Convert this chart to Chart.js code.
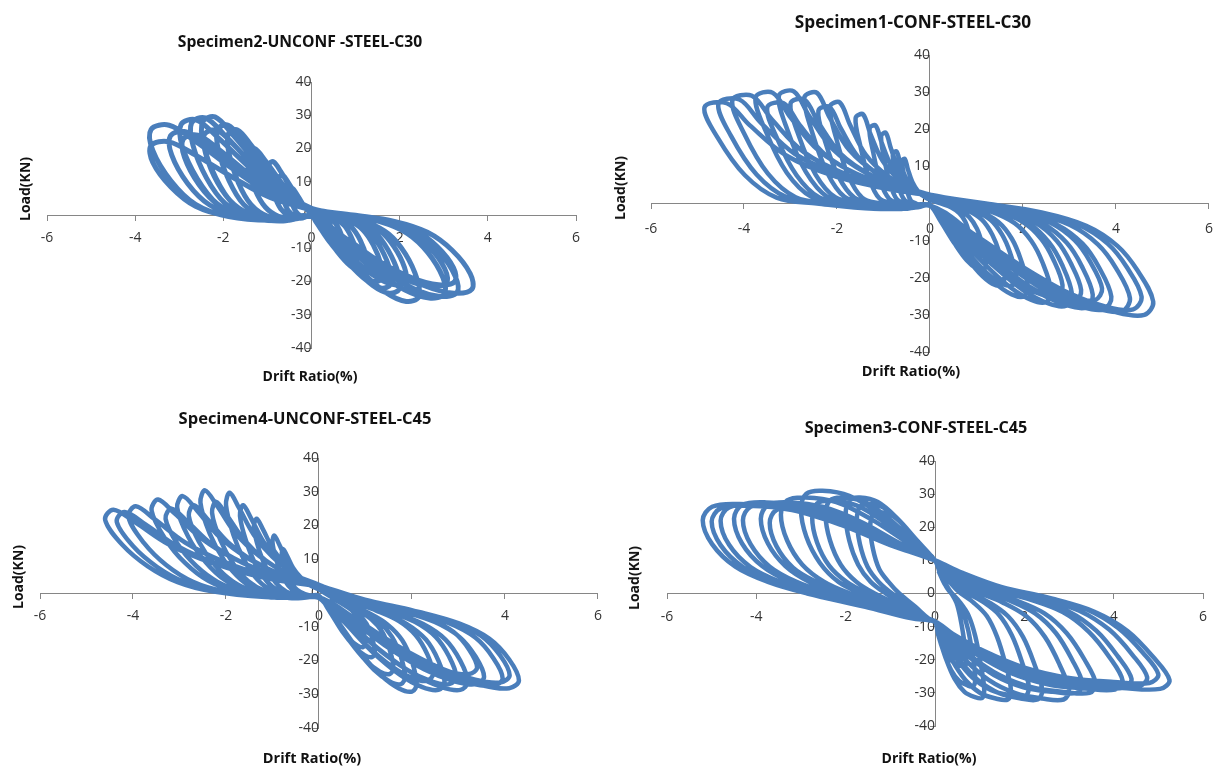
<!DOCTYPE html>
<html>
<head>
<meta charset="utf-8">
<script src="https://cdn.jsdelivr.net/npm/chart.js@4.4.1/dist/chart.umd.min.js"></script>
<style>
  body { margin: 0; background: #fff; font-family: "Open Sans", sans-serif; }
  #wrap { position: relative; width: 1225px; height: 767px; overflow: hidden; }
  canvas { position: absolute; }
  .t { position: absolute; white-space: nowrap; font-weight: bold; color: #111;
       transform: translate(-50%, -50%); line-height: 1; }
  .axt { font-size: 14px; }
  .rot { transform: translate(-50%, -50%) rotate(-90deg); }
</style>
</head>
<body>
<div id="wrap">
  <canvas id="c1" width="612" height="383" style="left:0;top:0"></canvas>
  <canvas id="c2" width="613" height="390" style="left:612px;top:0"></canvas>
  <canvas id="c3" width="612" height="384" style="left:0;top:383px"></canvas>
  <canvas id="c4" width="613" height="377" style="left:612px;top:390px"></canvas>

  <div class="t" style="left:300px;top:42px;font-size:15.7px">Specimen2-UNCONF -STEEL-C30</div>
  <div class="t" style="left:913px;top:22px;font-size:17.2px">Specimen1-CONF-STEEL-C30</div>
  <div class="t" style="left:305px;top:418px;font-size:16.5px">Specimen4-UNCONF-STEEL-C45</div>
  <div class="t" style="left:916px;top:427px;font-size:16.2px">Specimen3-CONF-STEEL-C45</div>

  <div class="t axt" style="left:310px;top:376px">Drift Ratio(%)</div>
  <div class="t axt" style="left:911px;top:371px;font-size:14.5px">Drift Ratio(%)</div>
  <div class="t axt" style="left:312px;top:758px;font-size:14.5px">Drift Ratio(%)</div>
  <div class="t axt" style="left:929px;top:758px">Drift Ratio(%)</div>

  <div class="t axt rot" style="left:25px;top:189px">Load(KN)</div>
  <div class="t axt rot" style="left:620px;top:188px">Load(KN)</div>
  <div class="t axt rot" style="left:18px;top:577px">Load(KN)</div>
  <div class="t axt rot" style="left:634px;top:578px">Load(KN)</div>
</div>

<script>
// tick values shared by all four panels
const driftTicks = [-6, -4, -2, 0, 2, 4, 6];
const loadTicks = [-40, -30, -20, -10, 0, 10, 20, 30, 40];

// hysteresis loops, drift (%) / load (kN) pairs
// Specimen2-UNCONF-STEEL-C30
const spec2Loops = [
  [0.13,0, 0.25,-0.6, 0.35,-1.5, 0.43,-3.2, 0.48,-5.3, 0.49,-6.7, 0.43,-7, 0.34,-6.3, 0.23,-4.6, 0.11,-2.2, 0,-0.1,
   -0.13,-0.5, -0.25,-0.2, -0.35,1, -0.43,3, -0.48,5.8, -0.49,7.6, -0.43,8, -0.35,6.6, -0.24,4.2, -0.13,1.9, 0,0.6],
  [0.19,0, 0.38,-0.8, 0.53,-2.3, 0.64,-4.7, 0.72,-7.9, 0.73,-10, 0.65,-10.5, 0.51,-9.5, 0.34,-6.8, 0.17,-3.4, 0,-0.2,
   -0.19,-0.7, -0.38,-0.2, -0.53,1.4, -0.64,4.6, -0.72,8.6, -0.73,11.4, -0.65,12, -0.53,9.8, -0.36,6.2, -0.19,2.9, 0,0.8],
  [0.26,0, 0.53,-1.1, 0.74,-3.1, 0.89,-6.3, 1.01,-10.5, 1.02,-13.3, 0.9,-14, 0.71,-12.6, 0.47,-9.1, 0.23,-4.5, 0,-0.3,
   -0.25,-1, -0.5,-0.3, -0.7,1.9, -0.85,6.1, -0.96,11.5, -0.97,15.2, -0.86,16, -0.7,13.1, -0.48,8.3, -0.25,3.8, 0,1.1],
  [0.33,0, 0.65,-1.4, 0.91,-3.7, 1.11,-7.7, 1.25,-12.8, 1.26,-16.2, 1.12,-17, 0.88,-15.3, 0.59,-11.1, 0.29,-5.4, 0,-0.3,
   -0.38,-1.2, -0.75,-0.4, -1.05,2.4, -1.28,7.6, -1.44,14.4, -1.46,19, -1.29,20, -1.05,16.4, -0.72,10.4, -0.38,4.8, 0,1.4],
  [0.41,0, 0.83,-1.6, 1.16,-4.4, 1.4,-9, 1.58,-15, 1.6,-19, 1.42,-20, 1.12,-18, 0.74,-13, 0.36,-6.4, 0,-0.4,
   -0.49,-1.5, -0.98,-0.5, -1.37,3.1, -1.66,9.7, -1.87,18.4, -1.89,24.3, -1.68,25.6, -1.37,21, -0.94,13.3, -0.49,6.1, 0,1.8],
  [0.46,0, 0.93,-1.8, 1.3,-4.8, 1.57,-9.9, 1.78,-16.5, 1.79,-20.9, 1.59,-22, 1.26,-19.8, 0.83,-14.3, 0.41,-7, 0,-0.4,
   -0.55,-1.6, -1.1,-0.5, -1.54,3.2, -1.87,10.3, -2.11,19.4, -2.13,25.7, -1.89,27, -1.54,22.1, -1.06,14, -0.55,6.5, 0,1.9],
  [0.51,0, 1.03,-1.9, 1.44,-5.2, 1.74,-10.6, 1.97,-17.6, 1.99,-22.3, 1.76,-23.5, 1.39,-21.2, 0.92,-15.3, 0.45,-7.5, 0,-0.5,
   -0.64,-1.8, -1.28,-0.6, -1.79,3.5, -2.17,11.2, -2.45,21.2, -2.47,28, -2.19,29.5, -1.79,24.2, -1.22,15.3, -0.64,7.1, 0,2],
  [0.55,0, 1.1,-1.7, 1.54,-4.6, 1.87,-9.5, 2.11,-15.8, 2.13,-20, 1.89,-21, 1.5,-18.9, 0.99,-13.7, 0.48,-6.7, 0,-0.4,
   -0.63,-1.5, -1.25,-0.5, -1.75,3.1, -2.13,9.7, -2.4,18.4, -2.43,24.2, -2.15,25.5, -1.75,20.9, -1.2,13.3, -0.63,6.1, 0,1.8],
  [0.63,0, 1.25,-2.1, 1.75,-5.7, 2.13,-11.7, 2.4,-19.5, 2.43,-24.7, 2.15,-26, 1.7,-23.4, 1.13,-16.9, 0.55,-8.3, 0,-0.5,
   -0.7,-1.8, -1.4,-0.6, -1.96,3.5, -2.38,11.1, -2.69,21, -2.72,27.7, -2.41,29.2, -1.96,23.9, -1.34,15.2, -0.7,7, 0,2],
  [0.78,0, 1.55,-2, 2.17,-5.5, 2.64,-11.3, 2.98,-18.8, 3.01,-23.8, 2.67,-25, 2.11,-22.5, 1.4,-16.3, 0.68,-8, 0,-0.5,
   -0.76,-1.7, -1.53,-0.6, -2.14,3.4, -2.59,10.9, -2.93,20.6, -2.96,27.2, -2.62,28.6, -2.14,23.5, -1.46,14.9, -0.76,6.9, 0,2],
  [0.79,0, 1.58,-1.7, 2.21,-4.7, 2.68,-9.7, 3.02,-16.1, 3.06,-20.4, 2.71,-21.5, 2.14,-19.4, 1.42,-14, 0.69,-6.9, 0,-0.4,
   -0.75,-1.4, -1.5,-0.5, -2.1,2.9, -2.55,9.1, -2.88,17.3, -2.91,22.8, -2.58,24, -2.1,19.7, -1.44,12.5, -0.75,5.8, 0,1.7],
  [0.85,0, 1.7,-2, 2.38,-5.4, 2.89,-11, 3.26,-18.4, 3.3,-23.3, 2.92,-24.5, 2.31,-22.1, 1.53,-15.9, 0.75,-7.8, 0,-0.5,
   -0.83,-1.5, -1.65,-0.5, -2.31,3, -2.81,9.5, -3.17,18, -3.2,23.8, -2.84,25, -2.31,20.5, -1.58,13, -0.83,6, 0,1.8],
  [0.94,0, 1.88,-1.9, 2.63,-5.2, 3.19,-10.6, 3.6,-17.6, 3.64,-22.3, 3.23,-23.5, 2.55,-21.2, 1.69,-15.3, 0.83,-7.5, 0,-0.5,
   -0.94,-1.6, -1.88,-0.5, -2.63,3.2, -3.19,10.3, -3.6,19.4, -3.64,25.7, -3.23,27, -2.63,22.1, -1.8,14, -0.94,6.5, 0,1.9],
  [0.84,0, 1.68,-1.7, 2.35,-4.6, 2.85,-9.5, 3.22,-15.8, 3.25,-20, 2.88,-21, 2.28,-18.9, 1.51,-13.7, 0.74,-6.7, 0,-0.4,
   -0.94,-1.3, -1.88,-0.4, -2.63,2.6, -3.19,8.4, -3.6,15.8, -3.64,20.9, -3.23,22, -2.63,18, -1.8,11.4, -0.94,5.3, 0,1.5]
];

// Specimen1-CONF-STEEL-C30
const spec1Loops = [
  [0.3,0, 0.6,-1.4, 0.84,-3.6, 1.01,-6.8, 1.12,-10.8, 1.2,-15.8, 1.15,-18, 1.01,-17.6, 0.79,-15.3, 0.53,-10.8, 0.24,-5, 0,-0.4,
   -0.15,-0.6, -0.3,0, -0.41,0.7, -0.49,3.4, -0.56,7.8, -0.6,11.5, -0.54,12, -0.48,9.4, -0.38,5.8, -0.25,3.2, -0.11,1.7, 0,1],
  [0.23,0, 0.45,-1, 0.63,-2.6, 0.76,-4.9, 0.84,-7.8, 0.9,-11.4, 0.86,-13, 0.76,-12.7, 0.59,-11.1, 0.4,-7.8, 0.18,-3.6, 0,-0.3,
   -0.2,-0.7, -0.4,0, -0.54,0.8, -0.66,3.9, -0.75,9.1, -0.8,13.4, -0.72,14, -0.64,10.9, -0.51,6.7, -0.34,3.8, -0.14,2, 0,1.1],
  [0.4,0, 0.8,-1.8, 1.12,-4.4, 1.34,-8.4, 1.49,-13.2, 1.6,-19.4, 1.54,-22, 1.34,-21.6, 1.06,-18.7, 0.7,-13.2, 0.32,-6.2, 0,-0.4,
   -0.26,-1, -0.53,0, -0.71,1.1, -0.86,5.3, -0.99,12.4, -1.05,18.2, -0.95,19, -0.84,14.8, -0.67,9.1, -0.44,5.1, -0.19,2.7, 0,1.5],
  [0.46,0, 0.93,-1.8, 1.3,-4.4, 1.55,-8.4, 1.72,-13.2, 1.85,-19.4, 1.78,-22, 1.55,-21.6, 1.22,-18.7, 0.81,-13.2, 0.37,-6.2, 0,-0.4,
   -0.33,-1.1, -0.65,0, -0.88,1.3, -1.07,5.9, -1.22,13.7, -1.3,20.2, -1.17,21, -1.04,16.4, -0.83,10.1, -0.55,5.7, -0.23,2.9, 0,1.7],
  [0.53,0, 1.05,-2, 1.47,-5, 1.76,-9.5, 1.95,-15, 2.1,-22, 2.02,-25, 1.76,-24.5, 1.39,-21.3, 0.92,-15, 0.42,-7, 0,-0.5,
   -0.4,-1.2, -0.8,0, -1.09,1.4, -1.31,6.7, -1.5,15.6, -1.6,23, -1.44,24, -1.28,18.7, -1.02,11.5, -0.67,6.5, -0.29,3.4, 0,1.9],
  [0.65,0, 1.3,-2.1, 1.82,-5.3, 2.18,-10.1, 2.42,-15.9, 2.6,-23.3, 2.5,-26.5, 2.18,-26, 1.72,-22.5, 1.14,-15.9, 0.52,-7.4, 0,-0.5,
   -0.54,-1.4, -1.08,0, -1.46,1.6, -1.76,7.6, -2.02,17.7, -2.15,26.1, -1.94,27.2, -1.72,21.2, -1.38,13.1, -0.9,7.3, -0.39,3.8, 0,2.2],
  [0.71,0, 1.43,-2, 2,-5, 2.39,-9.5, 2.65,-15, 2.85,-22, 2.74,-25, 2.39,-24.5, 1.88,-21.3, 1.25,-15, 0.57,-7, 0,-0.5,
   -0.6,-1.3, -1.2,0, -1.63,1.6, -1.97,7.3, -2.26,16.9, -2.4,25, -2.16,26, -1.92,20.3, -1.54,12.5, -1.01,7, -0.43,3.6, 0,2.1],
  [0.76,0, 1.53,-2.2, 2.14,-5.5, 2.56,-10.5, 2.84,-16.5, 3.05,-24.2, 2.93,-27.5, 2.56,-27, 2.01,-23.4, 1.34,-16.5, 0.61,-7.7, 0,-0.6,
   -0.68,-1.5, -1.35,0, -1.84,1.8, -2.21,8.3, -2.54,19.4, -2.7,28.6, -2.43,29.8, -2.16,23.2, -1.73,14.3, -1.13,8, -0.49,4.2, 0,2.4],
  [0.81,0, 1.63,-2.1, 2.28,-5.3, 2.73,-10.1, 3.02,-15.9, 3.25,-23.3, 3.12,-26.5, 2.73,-26, 2.15,-22.5, 1.43,-15.9, 0.65,-7.4, 0,-0.5,
   -0.75,-1.4, -1.5,0, -2.04,1.7, -2.46,7.8, -2.82,18.2, -3,26.9, -2.7,28, -2.4,21.8, -1.92,13.4, -1.26,7.6, -0.54,3.9, 0,2.2],
  [0.88,0, 1.75,-2.2, 2.45,-5.6, 2.94,-10.6, 3.26,-16.8, 3.5,-24.6, 3.36,-28, 2.94,-27.4, 2.31,-23.8, 1.54,-16.8, 0.7,-7.8, 0,-0.6,
   -0.81,-1.5, -1.63,0, -2.21,1.8, -2.67,8.5, -3.06,19.6, -3.25,29, -2.93,30.2, -2.6,23.6, -2.08,14.5, -1.37,8.2, -0.59,4.2, 0,2.4],
  [0.93,0, 1.85,-2.1, 2.59,-5.2, 3.11,-9.9, 3.44,-15.6, 3.7,-22.9, 3.55,-26, 3.11,-25.5, 2.44,-22.1, 1.63,-15.6, 0.74,-7.3, 0,-0.5,
   -0.88,-1.4, -1.75,0, -2.38,1.6, -2.87,7.6, -3.29,17.6, -3.5,25.9, -3.15,27, -2.8,21.1, -2.24,13, -1.47,7.3, -0.63,3.8, 0,2.2],
  [0.98,0, 1.95,-2.3, 2.73,-5.7, 3.28,-10.8, 3.63,-17.1, 3.9,-25.1, 3.74,-28.5, 3.28,-27.9, 2.57,-24.2, 1.72,-17.1, 0.78,-8, 0,-0.6,
   -0.94,-1.5, -1.88,0, -2.55,1.8, -3.08,8.3, -3.53,19.4, -3.75,28.6, -3.38,29.8, -3,23.2, -2.4,14.3, -1.58,8, -0.68,4.2, 0,2.4],
  [1.08,0, 2.15,-2.3, 3.01,-5.8, 3.61,-11, 4,-17.4, 4.3,-25.5, 4.13,-29, 3.61,-28.4, 2.84,-24.7, 1.89,-17.4, 0.86,-8.1, 0,-0.6,
   -1.06,-1.5, -2.13,0, -2.89,1.7, -3.49,8.1, -4,18.9, -4.25,27.8, -3.83,29, -3.4,22.6, -2.72,13.9, -1.79,7.8, -0.77,4.1, 0,2.3],
  [1.14,0, 2.28,-2.3, 3.19,-5.7, 3.82,-10.8, 4.23,-17.1, 4.55,-25.1, 4.37,-28.5, 3.82,-27.9, 3,-24.2, 2,-17.1, 0.91,-8, 0,-0.6,
   -1.14,-1.4, -2.28,0, -3.09,1.7, -3.73,7.8, -4.28,18.2, -4.55,26.9, -4.1,28, -3.64,21.8, -2.91,13.4, -1.91,7.6, -0.82,3.9, 0,2.2],
  [1.2,0, 2.4,-2.4, 3.36,-6, 4.03,-11.4, 4.46,-18, 4.8,-26.4, 4.61,-30, 4.03,-29.4, 3.17,-25.5, 2.11,-18, 0.96,-8.4, 0,-0.6,
   -1.21,-1.4, -2.43,0, -3.3,1.6, -3.98,7.6, -4.56,17.6, -4.85,25.9, -4.37,27, -3.88,21.1, -3.1,13, -2.04,7.3, -0.87,3.8, 0,2.2]
];

// Specimen4-UNCONF-STEEL-C45
const spec4Loops = [
  [0.25,-1.3, 0.5,-3.2, 0.7,-5.1, 0.85,-7.7, 0.95,-11.2, 1,-14.7, 0.95,-16, 0.82,-15.5, 0.64,-13.4, 0.42,-9.6, 0.2,-4.8, 0,-0.8,
   -0.2,-0.7, -0.4,0.3, -0.53,1.7, -0.64,4.2, -0.74,7.5, -0.8,11.4, -0.77,13, -0.69,11.1, -0.56,7.5, -0.4,4.7, -0.2,2.3, 0,1],
  [0.3,-1.5, 0.6,-3.8, 0.84,-6.1, 1.02,-9.1, 1.14,-13.3, 1.2,-17.5, 1.14,-19, 0.98,-18.4, 0.77,-16, 0.5,-11.4, 0.24,-5.7, 0,-1,
   -0.25,-0.9, -0.5,0.3, -0.66,2.2, -0.8,5.4, -0.92,9.9, -1,15, -0.96,17, -0.86,14.5, -0.7,9.9, -0.5,6.1, -0.25,3.1, 0,1.4],
  [0.4,-1.9, 0.8,-4.8, 1.12,-7.7, 1.36,-11.5, 1.52,-16.8, 1.6,-22.1, 1.52,-24, 1.31,-23.3, 1.02,-20.2, 0.67,-14.4, 0.32,-7.2, 0,-1.2,
   -0.35,-1.1, -0.7,0.4, -0.92,2.9, -1.12,7, -1.29,12.8, -1.4,19.4, -1.34,22, -1.2,18.7, -0.98,12.8, -0.7,7.9, -0.35,4, 0,1.8],
  [0.46,-2.2, 0.93,-5.4, 1.3,-8.6, 1.57,-13, 1.76,-18.9, 1.85,-24.8, 1.76,-27, 1.52,-26.2, 1.18,-22.7, 0.78,-16.2, 0.37,-8.1, 0,-1.4,
   -0.43,-1.3, -0.85,0.5, -1.12,3.4, -1.36,8.3, -1.56,15.1, -1.7,22.9, -1.63,26, -1.46,22.1, -1.19,15.1, -0.85,9.4, -0.43,4.7, 0,2.1],
  [0.53,-2.3, 1.05,-5.8, 1.47,-9.3, 1.79,-14, 2,-20.4, 2.1,-26.9, 2,-29.2, 1.72,-28.3, 1.34,-24.5, 0.88,-17.5, 0.42,-8.8, 0,-1.5,
   -0.5,-1.5, -1,0.6, -1.32,3.9, -1.6,9.5, -1.84,17.2, -2,26.1, -1.92,29.7, -1.72,25.2, -1.4,17.2, -1,10.7, -0.5,5.3, 0,2.4],
  [0.61,-2.1, 1.23,-5.2, 1.72,-8.3, 2.08,-12.5, 2.33,-18.2, 2.45,-23.9, 2.33,-26, 2.01,-25.2, 1.57,-21.8, 1.03,-15.6, 0.49,-7.8, 0,-1.3,
   -0.58,-1.4, -1.15,0.5, -1.52,3.5, -1.84,8.6, -2.12,15.7, -2.3,23.8, -2.21,27, -1.98,23, -1.61,15.7, -1.15,9.7, -0.58,4.9, 0,2.2],
  [0.68,-2.3, 1.35,-5.7, 1.89,-9.2, 2.3,-13.8, 2.57,-20.1, 2.7,-26.4, 2.57,-28.7, 2.21,-27.8, 1.73,-24.1, 1.13,-17.2, 0.54,-8.6, 0,-1.4,
   -0.64,-1.5, -1.28,0.6, -1.68,4, -2.04,9.7, -2.35,17.6, -2.55,26.8, -2.45,30.4, -2.19,25.8, -1.79,17.6, -1.28,10.9, -0.64,5.5, 0,2.4],
  [0.74,-2.2, 1.48,-5.4, 2.07,-8.6, 2.51,-13, 2.8,-18.9, 2.95,-24.8, 2.8,-27, 2.42,-26.2, 1.89,-22.7, 1.24,-16.2, 0.59,-8.1, 0,-1.4,
   -0.7,-1.3, -1.4,0.5, -1.85,3.4, -2.24,8.3, -2.58,15.1, -2.8,22.9, -2.69,26, -2.41,22.1, -1.96,15.1, -1.4,9.4, -0.7,4.7, 0,2.1],
  [0.8,-2.3, 1.6,-5.7, 2.24,-9.2, 2.72,-13.8, 3.04,-20.1, 3.2,-26.4, 3.04,-28.7, 2.62,-27.8, 2.05,-24.1, 1.34,-17.2, 0.64,-8.6, 0,-1.4,
   -0.76,-1.4, -1.53,0.6, -2.01,3.7, -2.44,9.2, -2.81,16.6, -3.05,25.3, -2.93,28.7, -2.62,24.4, -2.14,16.6, -1.53,10.3, -0.76,5.2, 0,2.3],
  [0.85,-1.9, 1.7,-4.8, 2.38,-7.7, 2.89,-11.5, 3.23,-16.8, 3.4,-22.1, 3.23,-24, 2.79,-23.3, 2.18,-20.2, 1.43,-14.4, 0.68,-7.2, 0,-1.2,
   -0.83,-1.3, -1.65,0.5, -2.18,3.3, -2.64,8, -3.04,14.5, -3.3,22, -3.17,25, -2.84,21.3, -2.31,14.5, -1.65,9, -0.83,4.5, 0,2],
  [0.89,-2.2, 1.78,-5.4, 2.49,-8.6, 3.02,-13, 3.37,-18.9, 3.55,-24.8, 3.37,-27, 2.91,-26.2, 2.27,-22.7, 1.49,-16.2, 0.71,-8.1, 0,-1.4,
   -0.9,-1.4, -1.8,0.6, -2.38,3.6, -2.88,8.9, -3.31,16.1, -3.6,24.4, -3.46,27.7, -3.1,23.5, -2.52,16.1, -1.8,10, -0.9,5, 0,2.2],
  [0.99,-2.2, 1.98,-5.5, 2.77,-8.8, 3.36,-13.2, 3.75,-19.3, 3.95,-25.3, 3.75,-27.5, 3.24,-26.7, 2.53,-23.1, 1.66,-16.5, 0.79,-8.3, 0,-1.4,
   -1.03,-1.3, -2.05,0.5, -2.71,3.3, -3.28,8.2, -3.77,14.9, -4.1,22.6, -3.94,25.7, -3.53,21.8, -2.87,14.9, -2.05,9.3, -1.03,4.6, 0,2.1],
  [1.03,-2.1, 2.05,-5.3, 2.87,-8.5, 3.49,-12.7, 3.9,-18.6, 4.1,-24.4, 3.9,-26.5, 3.36,-25.7, 2.62,-22.3, 1.72,-15.9, 0.82,-8, 0,-1.3,
   -1.09,-1.2, -2.18,0.5, -2.87,3.1, -3.48,7.7, -4,13.9, -4.35,21.1, -4.18,24, -3.74,20.4, -3.05,13.9, -2.18,8.6, -1.09,4.3, 0,1.9],
  [1.08,-2.3, 2.15,-5.6, 3.01,-9, 3.66,-13.5, 4.09,-19.7, 4.3,-25.9, 4.09,-28.2, 3.53,-27.4, 2.75,-23.7, 1.81,-16.9, 0.86,-8.5, 0,-1.4,
   -1.15,-1.2, -2.3,0.5, -3.04,3.2, -3.68,7.9, -4.23,14.3, -4.6,21.7, -4.42,24.7, -3.96,21, -3.22,14.3, -2.3,8.9, -1.15,4.4, 0,2]
];

// Specimen3-CONF-STEEL-C45
const spec3Loops = [
  [0.08,6.8, 0.21,3, 0.35,0.4, 0.48,-2.8, 0.57,-7.6, 0.65,-14, 0.7,-19.8, 0.67,-22, 0.56,-21.8, 0.42,-20.9, 0.28,-18.6, 0.15,-15, 0.06,-11.2, 0,-8.5,
   -0.15,-7.5, -0.44,-4, -0.8,0, -1.04,3.5, -1.25,7.4, -1.39,13.5, -1.45,20.1, -1.39,23.8, -1.22,24.5, -0.93,23.3, -0.61,19.1, -0.29,13.5, 0,10],
  [0.11,6.2, 0.27,1.6, 0.45,-1.4, 0.61,-5.2, 0.74,-10.9, 0.84,-18.5, 0.9,-25.3, 0.86,-28, 0.72,-27.7, 0.54,-26.4, 0.36,-23.1, 0.2,-17.9, 0.07,-12.4, 0,-8.5,
   -0.18,-7.5, -0.53,-4, -0.96,0, -1.26,3.5, -1.51,8.1, -1.68,14.9, -1.75,22.1, -1.68,26.2, -1.47,27, -1.12,25.7, -0.74,21.1, -0.35,14.9, 0,10],
  [0.13,5.9, 0.33,0.9, 0.55,-2.5, 0.75,-6.6, 0.9,-12.8, 1.02,-21.1, 1.1,-28.6, 1.06,-31.5, 0.88,-31.2, 0.66,-29.7, 0.44,-25.8, 0.24,-19.5, 0.09,-13.1, 0,-8.5,
   -0.2,-7.5, -0.6,-4, -1.1,0, -1.44,3.5, -1.72,8.7, -1.92,16, -2,23.8, -1.92,28.1, -1.68,29, -1.28,27.6, -0.84,22.6, -0.4,16, 0,10],
  [0.2,5.8, 0.51,0.8, 0.85,-2.6, 1.16,-6.8, 1.39,-13.1, 1.58,-21.5, 1.7,-29.1, 1.63,-32, 1.36,-31.7, 1.02,-30.1, 0.68,-26.1, 0.37,-19.8, 0.14,-13.2, 0,-8.5,
   -0.25,-7.5, -0.74,-4, -1.35,0, -1.76,3.5, -2.11,8.7, -2.35,16, -2.45,23.8, -2.35,28.1, -2.06,29, -1.57,27.6, -1.03,22.6, -0.49,16, 0,10],
  [0.25,5.9, 0.63,1, 1.05,-2.3, 1.43,-6.4, 1.72,-12.6, 1.95,-20.8, 2.1,-28.1, 2.02,-31, 1.68,-30.7, 1.26,-29.2, 0.84,-25.4, 0.46,-19.3, 0.17,-13, 0,-8.5,
   -0.28,-7.5, -0.83,-4, -1.51,0, -1.98,3.5, -2.37,8.4, -2.64,15.4, -2.75,23, -2.64,27.2, -2.31,28, -1.76,26.6, -1.16,21.8, -0.55,15.4, 0,10],
  [0.29,5.8, 0.72,0.8, 1.2,-2.6, 1.63,-6.8, 1.97,-13.1, 2.23,-21.5, 2.4,-29.1, 2.3,-32, 1.92,-31.7, 1.44,-30.1, 0.96,-26.1, 0.53,-19.8, 0.19,-13.2, 0,-8.5,
   -0.3,-7.5, -0.9,-4, -1.65,0, -2.16,3.5, -2.58,9.3, -2.88,17.1, -3,25.4, -2.88,30.1, -2.52,31, -1.92,29.5, -1.26,24.2, -0.6,17.1, 0,10],
  [0.36,5.8, 0.9,0.8, 1.5,-2.6, 2.04,-6.8, 2.46,-13.1, 2.79,-21.5, 3,-29.1, 2.88,-32, 2.4,-31.7, 1.8,-30.1, 1.2,-26.1, 0.66,-19.8, 0.24,-13.2, 0,-8.5,
   -0.35,-7.5, -1.04,-4, -1.9,0, -2.48,3.5, -2.97,8.7, -3.31,16, -3.45,23.8, -3.31,28.1, -2.9,29, -2.21,27.6, -1.45,22.6, -0.69,16, 0,10],
  [0.4,6, 0.99,1.2, 1.65,-2, 2.24,-6, 2.71,-12, 3.07,-20, 3.3,-27.2, 3.17,-30, 2.64,-29.7, 1.98,-28.3, 1.32,-24.6, 0.73,-18.8, 0.26,-12.8, 0,-8.5,
   -0.37,-7.5, -1.11,-4, -2.04,0, -2.66,3.5, -3.18,7.8, -3.55,14.3, -3.7,21.3, -3.55,25.2, -3.11,26, -2.37,24.7, -1.55,20.3, -0.74,14.3, 0,10],
  [0.43,6, 1.08,1.2, 1.8,-2, 2.45,-6, 2.95,-12, 3.35,-20, 3.6,-27.2, 3.46,-30, 2.88,-29.7, 2.16,-28.3, 1.44,-24.6, 0.79,-18.8, 0.29,-12.8, 0,-8.5,
   -0.39,-7.5, -1.17,-4, -2.15,0, -2.81,3.5, -3.35,8.3, -3.74,15.1, -3.9,22.6, -3.74,26.7, -3.28,27.5, -2.5,26.1, -1.64,21.5, -0.78,15.1, 0,10],
  [0.5,6.1, 1.26,1.4, 2.1,-1.7, 2.86,-5.6, 3.44,-11.5, 3.91,-19.3, 4.2,-26.3, 4.03,-29, 3.36,-28.7, 2.52,-27.4, 1.68,-23.9, 0.92,-18.3, 0.34,-12.6, 0,-8.5,
   -0.43,-7.5, -1.29,-4, -2.37,0, -3.1,3.5, -3.7,8.1, -4.13,14.9, -4.3,22.1, -4.13,26.2, -3.61,27, -2.75,25.7, -1.81,21.1, -0.86,14.9, 0,10],
  [0.53,6.2, 1.32,1.5, 2.2,-1.6, 2.99,-5.4, 3.61,-11.2, 4.09,-18.9, 4.4,-25.8, 4.22,-28.5, 3.52,-28.2, 2.64,-26.9, 1.76,-23.5, 0.97,-18.1, 0.35,-12.5, 0,-8.5,
   -0.45,-7.5, -1.35,-4, -2.48,0, -3.24,3.5, -3.87,8.3, -4.32,15.1, -4.5,22.6, -4.32,26.7, -3.78,27.5, -2.88,26.1, -1.89,21.5, -0.9,15.1, 0,10],
  [0.57,6.2, 1.43,1.6, 2.38,-1.4, 3.23,-5.2, 3.9,-10.9, 4.42,-18.5, 4.75,-25.3, 4.56,-28, 3.8,-27.7, 2.85,-26.4, 1.9,-23.1, 1.05,-17.9, 0.38,-12.4, 0,-8.5,
   -0.48,-7.5, -1.44,-4, -2.64,0, -3.46,3.5, -4.13,8, -4.61,14.7, -4.8,22, -4.61,26, -4.03,26.8, -3.07,25.5, -2.02,20.9, -0.96,14.7, 0,10],
  [0.6,6.3, 1.5,1.9, 2.5,-1.1, 3.4,-4.8, 4.1,-10.4, 4.65,-17.8, 5,-24.4, 4.8,-27, 4,-26.7, 3,-25.5, 2,-22.4, 1.1,-17.4, 0.4,-12.2, 0,-8.5,
   -0.5,-7.5, -1.5,-4, -2.75,0, -3.6,3.5, -4.3,8, -4.8,14.6, -5,21.7, -4.8,25.7, -4.2,26.5, -3.2,25.2, -2.1,20.7, -1,14.6, 0,10],
  [0.63,6.1, 1.58,1.5, 2.63,-1.6, 3.57,-5.5, 4.31,-11.3, 4.88,-19.1, 5.25,-26.1, 5.04,-28.8, 4.2,-28.5, 3.15,-27.2, 2.1,-23.7, 1.16,-18.2, 0.42,-12.6, 0,-8.5,
   -0.52,-7.5, -1.56,-4, -2.86,0, -3.74,3.5, -4.47,8.1, -4.99,14.9, -5.2,22.1, -4.99,26.2, -4.37,27, -3.33,25.7, -2.18,21.1, -1.04,14.9, 0,10]
];

// turn flat x,y lists into Chart.js points, one continuous test record
function toPoints(loops) {
  const pts = [];
  loops.forEach((loop) => {
    for (let i = 0; i < loop.length; i += 2) {
      pts.push({ x: loop[i], y: loop[i + 1] });
    }
  });
  return pts;
}

const axisGrey = "#868686";
const tickFont = { family: "'Open Sans', sans-serif", size: 14 };

function makeChart(canvasId, loops, pad, xPad, yPad, lineW) {
  const ctx = document.getElementById(canvasId).getContext("2d");
  return new Chart(ctx, {
    type: "scatter",
    data: {
      datasets: [
        {
          data: toPoints(loops),
          showLine: true,
          borderColor: "#4a7ebb",
          borderWidth: lineW,
          pointRadius: 0,
          tension: 0.35,
        },
      ],
    },
    options: {
      responsive: false,
      animation: false,
      devicePixelRatio: 1,
      layout: { padding: pad },
      plugins: { legend: { display: false }, tooltip: { enabled: false } },
      scales: {
        x: {
          type: "linear",
          min: -6,
          max: 6,
          position: { y: 0 },
          afterFit: (s) => { s.height = 0; },
          afterBuildTicks: (s) => { s.ticks = driftTicks.map((v) => ({ value: v })); },
          grid: { drawOnChartArea: false, drawTicks: true, tickLength: 5, color: axisGrey },
          border: { color: axisGrey, width: 1 },
          ticks: { font: tickFont, color: "#333", padding: xPad, maxRotation: 0, autoSkip: false },
        },
        y: {
          type: "linear",
          min: -40,
          max: 40,
          position: { x: 0 },
          afterFit: (s) => { s.width = 0; },
          afterBuildTicks: (s) => { s.ticks = loadTicks.map((v) => ({ value: v })); },
          grid: { drawOnChartArea: false, drawTicks: true, tickLength: 5, color: axisGrey },
          border: { color: axisGrey, width: 1 },
          ticks: { font: tickFont, color: "#333", padding: yPad, autoSkip: false },
        },
      },
    },
  });
}

makeChart("c1", spec2Loops, { left: 47, top: 82, right: 36, bottom: 35 }, 10, 9, 5);
makeChart("c2", spec1Loops, { left: 39, top: 55, right: 11, bottom: 38 }, 12, 6, 4.5);
makeChart("c3", spec4Loops, { left: 40, top: 75, right: 14, bottom: 39 }, 10, 5, 4.5);
makeChart("c4", spec3Loops, { left: 55, top: 71, right: 22, bottom: 41 }, 10, 9, 4.5);
</script>
</body>
</html>
